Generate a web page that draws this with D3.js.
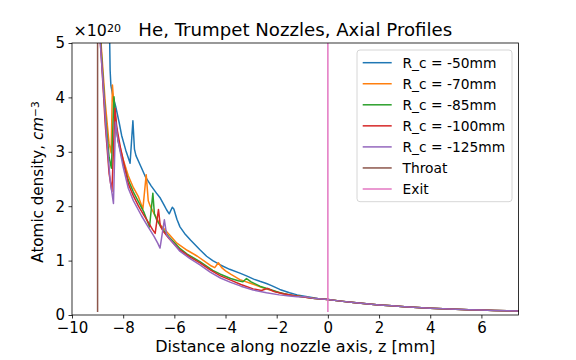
<!DOCTYPE html>
<html><head><meta charset="utf-8">
<script src="https://cdn.jsdelivr.net/npm/d3@7"></script>
<style>
body{margin:0;background:#fff}
text{font-family:"DejaVu Sans",sans-serif;fill:#000}
</style>
</head><body>
<svg id="chart" width="576" height="360"></svg>
<script>
// ---- data (z in mm, density in units of 1e20 cm^-3) ----
const seriesLabels = ["R_c = -50mm","R_c = -70mm","R_c = -85mm","R_c = -100mm","R_c = -125mm","Throat","Exit"];
const seriesColors = ["#1f77b4","#ff7f0e","#2ca02c","#d62728","#9467bd","#8c564b","#e377c2"];
const xTicks = [-10,-8,-6,-4,-2,0,2,4,6];
const yTicks = [0,1,2,3,4,5];

const tail = [[0.5,0.255],[1,0.23],[1.5,0.207],[2,0.186],[2.5,0.168],[3,0.152],[3.5,0.138],[4,0.126],[4.5,0.115],[5,0.106],[5.5,0.098],[6,0.091],[6.5,0.085],[7,0.079],[7.45,0.074]];

const rc50 = [[-9.0,7.5],[-8.6,6.2],[-8.54,5.4],[-8.51,4.5],[-8.48,4.22],[-8.4,4.02],[-8.29,3.83],[-8.15,3.52],[-8.06,3.3],[-7.9,3.03],[-7.8,2.89],[-7.73,2.79],[-7.62,3.57],[-7.56,3.05],[-7.5,2.93],[-7.3,2.72],[-7.14,2.55],[-6.9,2.37],[-6.7,2.24],[-6.55,2.15],[-6.4,2.02],[-6.3,1.93],[-6.2,1.86],[-6.08,1.98],[-6.02,1.95],[-5.9,1.76],[-5.78,1.62],[-5.6,1.5],[-5.37,1.38],[-5.0,1.2],[-4.74,1.08],[-4.5,1.0],[-4.2,0.92],[-3.84,0.84],[-3.44,0.77],[-3.18,0.72],[-2.9,0.66],[-2.66,0.62],[-2.4,0.58],[-2.2,0.54],[-1.88,0.47],[-1.5,0.41],[-1.2,0.37],[-0.8,0.335],[-0.4,0.305],[0,0.285]];

const rc70 = [[-9.0,6.0],[-8.85,4.9],[-8.7,3.9],[-8.55,3.15],[-8.47,2.98],[-8.42,4.23],[-8.36,3.85],[-8.3,3.55],[-8.2,3.22],[-8.0,2.86],[-7.8,2.56],[-7.6,2.34],[-7.4,2.17],[-7.3,2.04],[-7.23,1.95],[-7.1,2.58],[-7.02,2.1],[-6.94,2.0],[-6.8,1.87],[-6.55,1.66],[-6.2,1.48],[-5.9,1.32],[-5.5,1.19],[-5.1,1.08],[-4.8,0.98],[-4.55,0.9],[-4.42,0.87],[-4.28,0.96],[-4.15,0.87],[-4.0,0.81],[-3.8,0.75],[-3.44,0.65],[-3.0,0.58],[-2.6,0.51],[-2.2,0.45],[-1.8,0.40],[-1.4,0.36],[-1.0,0.335],[-0.5,0.305],[0,0.285]];

const rc85 = [[-9.0,5.9],[-8.85,4.8],[-8.7,3.7],[-8.55,2.9],[-8.46,2.7],[-8.36,4.01],[-8.3,3.62],[-8.2,3.2],[-8.0,2.8],[-7.8,2.48],[-7.6,2.26],[-7.4,2.08],[-7.2,1.9],[-7.05,1.72],[-6.97,1.62],[-6.84,2.24],[-6.78,1.86],[-6.7,1.76],[-6.5,1.6],[-6.2,1.43],[-5.8,1.23],[-5.5,1.12],[-5.0,0.98],[-4.5,0.82],[-4.2,0.75],[-3.8,0.67],[-3.5,0.63],[-3.32,0.61],[-3.18,0.67],[-3.0,0.61],[-2.66,0.53],[-2.2,0.46],[-1.88,0.41],[-1.5,0.37],[-1.0,0.335],[-0.5,0.305],[0,0.285]];

const rc100 = [[-9.0,5.8],[-8.85,4.7],[-8.7,3.5],[-8.55,2.6],[-8.44,2.27],[-8.32,3.8],[-8.25,3.45],[-8.1,3.06],[-7.95,2.74],[-7.8,2.41],[-7.6,2.19],[-7.4,2.0],[-7.2,1.84],[-7.0,1.69],[-6.85,1.57],[-6.75,1.5],[-6.62,1.94],[-6.55,1.64],[-6.45,1.55],[-6.2,1.40],[-5.8,1.2],[-5.4,1.07],[-5.0,0.96],[-4.6,0.83],[-4.2,0.72],[-3.8,0.64],[-3.4,0.56],[-2.92,0.48],[-2.6,0.45],[-2.35,0.49],[-2.1,0.43],[-1.75,0.39],[-1.3,0.355],[-0.6,0.31],[0,0.285]];

const rc125 = [[-9.0,5.7],[-8.82,4.5],[-8.65,3.3],[-8.51,2.48],[-8.38,2.05],[-8.3,3.55],[-8.2,3.2],[-8.0,2.72],[-7.8,2.33],[-7.6,2.1],[-7.28,1.82],[-7.0,1.6],[-6.8,1.45],[-6.65,1.32],[-6.56,1.23],[-6.39,1.75],[-6.3,1.47],[-6.1,1.35],[-5.8,1.18],[-5.4,1.04],[-5.0,0.92],[-4.6,0.79],[-4.2,0.68],[-3.8,0.6],[-3.4,0.53],[-2.92,0.46],[-2.4,0.41],[-1.9,0.37],[-1.5,0.35],[-1.2,0.335],[-0.9,0.335],[-0.6,0.31],[0,0.285]];

const throatLine = [[-9,0.07],[-9,9]];
const exitLine = [[0,0.07],[0,9]];

// ---- layout ----
const plot = {left:72, right:518.5, top:43, bottom:315};
const svg = d3.select("#chart");

// scale a text's font-size so that its rendered width matches a target width
function fitWidth(sel, target){
  const len = sel.node().getComputedTextLength();
  const fs = parseFloat(sel.attr("font-size"));
  if (len > 0) sel.attr("font-size", (fs*target/len).toFixed(2));
}

const x = d3.scaleLinear().domain([-10, 7.45]).range([plot.left, plot.right]);
const y = d3.scaleLinear().domain([0, 5]).range([plot.bottom, plot.top]);

svg.append("defs").append("clipPath").attr("id","clip")
  .append("rect").attr("x",plot.left).attr("y",plot.top)
  .attr("width",plot.right-plot.left).attr("height",plot.bottom-plot.top);

const allSeries = [rc50, rc70, rc85, rc100, rc125, throatLine, exitLine]
  .map((d,i) => ({pts: i < 5 ? d.concat(tail) : d, color: seriesColors[i], label: seriesLabels[i]}));

const line = d3.line().x(d => x(d[0])).y(d => y(d[1]));
const g = svg.append("g").attr("clip-path","url(#clip)");
g.selectAll("path").data(allSeries).join("path")
  .attr("d", d => line(d.pts))
  .attr("fill","none").attr("stroke", d => d.color)
  .attr("stroke-width",1.5).attr("stroke-linejoin","round").attr("stroke-linecap","square");

// axes
const xAxis = d3.axisBottom(x).tickValues(xTicks).tickSize(3.5).tickSizeOuter(0).tickPadding(4);
const yAxis = d3.axisLeft(y).tickValues(yTicks).tickFormat(d3.format("d")).tickSize(3.5).tickSizeOuter(0).tickPadding(3.5);
const gx = svg.append("g").attr("transform",`translate(0,${plot.bottom})`).call(xAxis);
const gy = svg.append("g").attr("transform",`translate(${plot.left},0)`).call(yAxis);
[gx, gy].forEach(a => {
  a.select(".domain").remove();
  a.selectAll(".tick line").attr("stroke","#000").attr("stroke-width",0.8);
  a.selectAll(".tick text").attr("font-size",15).attr("font-family","DejaVu Sans").attr("fill","#000");
});

// frame
svg.append("rect").attr("x",plot.left).attr("y",plot.top)
  .attr("width",plot.right-plot.left).attr("height",plot.bottom-plot.top)
  .attr("fill","none").attr("stroke","#000").attr("stroke-width",0.8);

// title
const title = svg.append("text").attr("x",(plot.left+plot.right)/2).attr("y",36)
  .attr("text-anchor","middle").attr("font-size",16)
  .text("He, Trumpet Nozzles, Axial Profiles");
fitWidth(title, 314);

// offset text
const off = svg.append("text").attr("x",73.5).attr("y",36).attr("font-size",15);
off.append("tspan").text("×10");
off.append("tspan").attr("dy","-0.4em").attr("font-size","0.7em").text("20");
fitWidth(off, 47.5);

// x label
const xl = svg.append("text").attr("x",(plot.left+plot.right)/2).attr("y",352)
  .attr("text-anchor","middle").attr("font-size",15)
  .text("Distance along nozzle axis, z [mm]");
fitWidth(xl, 280);

// y label
const yl = svg.append("text").attr("transform",`translate(43,${(plot.top+plot.bottom)/2 + 3}) rotate(-90)`)
  .attr("text-anchor","middle").attr("font-size",15);
yl.append("tspan").text("Atomic density, ");
yl.append("tspan").attr("font-style","italic").text("cm");
yl.append("tspan").attr("dy","-0.4em").attr("font-size","0.7em").text("−3");
fitWidth(yl, 161.5);

// legend
const lg = svg.append("g");
lg.append("rect").attr("x",357).attr("y",50).attr("width",155).attr("height",151.7)
  .attr("rx",3).attr("fill","#fff").attr("fill-opacity",0.8)
  .attr("stroke","#cccccc").attr("stroke-width",0.8);
const rows = lg.selectAll("g.row").data(allSeries).join("g").attr("class","row")
  .attr("transform",(d,i) => `translate(0,${62.7 + i*21.05})`);
rows.append("line").attr("x1",362.7).attr("x2",391.7).attr("y1",0).attr("y2",0)
  .attr("stroke",d => d.color).attr("stroke-width",1.5);
const legTexts = rows.append("text").attr("x",402.5).attr("y",0).attr("dy","0.36em").attr("font-size",14)
  .text(d => d.label);
// size legend font from the longest label's measured width
const longest = legTexts.filter(d => d.label === "R_c = -100mm");
const lfs = 14 * 102.7 / longest.node().getComputedTextLength();
legTexts.attr("font-size", lfs.toFixed(2));
</script>
</body></html>
